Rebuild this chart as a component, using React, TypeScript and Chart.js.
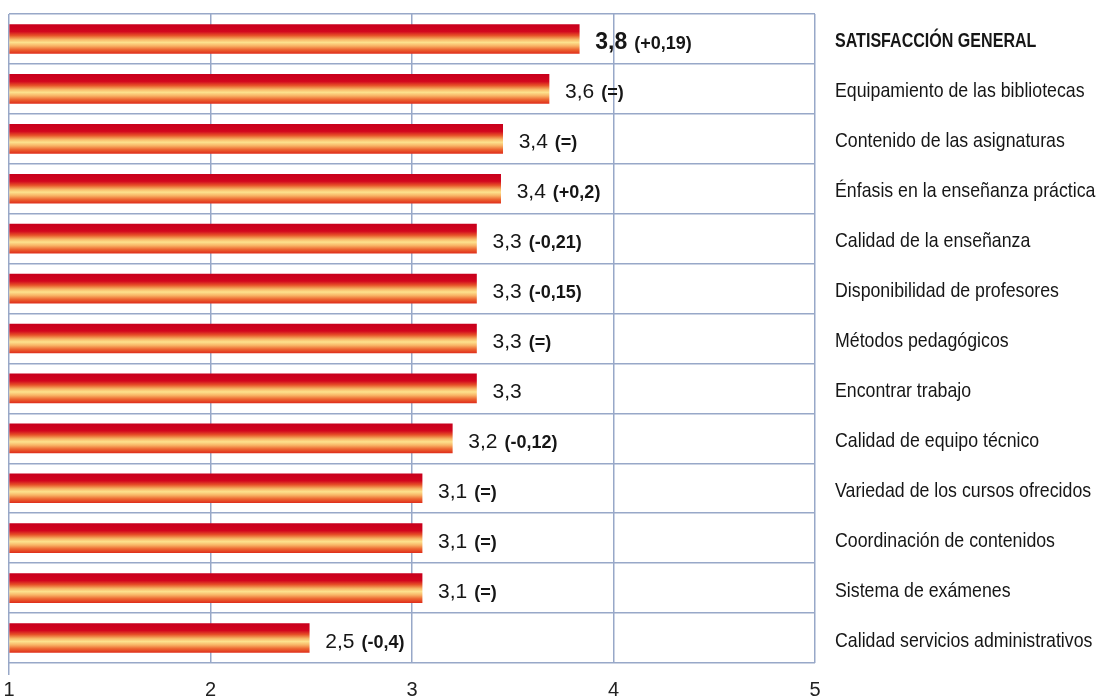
import React, { useEffect, useRef } from "react";
import { Chart, registerables } from "chart.js";

Chart.register(...registerables);

const categories = [
  "SATISFACCIÓN GENERAL",
  "Equipamiento de las bibliotecas",
  "Contenido de las asignaturas",
  "Énfasis en la enseñanza práctica",
  "Calidad de la enseñanza",
  "Disponibilidad de profesores",
  "Métodos pedagógicos",
  "Encontrar trabajo",
  "Calidad de equipo técnico",
  "Variedad de los cursos ofrecidos",
  "Coordinación de contenidos",
  "Sistema de exámenes",
  "Calidad servicios administrativos",
];
const scores = [3.83, 3.68, 3.45, 3.44, 3.32, 3.32, 3.32, 3.32, 3.2, 3.05, 3.05, 3.05, 2.49];
const scoreLabels = ["3,8", "3,6", "3,4", "3,4", "3,3", "3,3", "3,3", "3,3", "3,2", "3,1", "3,1", "3,1", "2,5"];
const changeLabels = ["(+0,19)", "(=)", "(=)", "(+0,2)", "(-0,21)", "(-0,15)", "(=)", "", "(-0,12)", "(=)", "(=)", "(=)", "(-0,4)"];
const xMin = 1;
const xMax = 5;

const GRID = "#98a8c8";
const TEXT = "#161616";
const SANS = "'Liberation Sans', Arial, sans-serif";
const CANVAS_W = 1097;
const CANVAS_H = 720;
// condensed look: horizontal squeeze applied to the category labels
const NARROW_REGULAR = 0.845;
const NARROW_BOLD = 0.765;

const valueLabelPlugin = {
  id: "valueLabels",
  afterDatasetsDraw(chart: any) {
    const meta = chart.getDatasetMeta(0);
    const c = chart.ctx;
    meta.data.forEach((el: any, i: number) => {
      const big = i === 0;
      const size = big ? 23 : 21;
      const x = el.x + 16;
      const base = el.y + 0.358 * size + 2;
      c.save();
      c.textBaseline = "alphabetic";
      c.textAlign = "left";
      c.fillStyle = TEXT;
      c.font = `${big ? "bold " : ""}${size}px ${SANS}`;
      c.fillText(scoreLabels[i], x, base);
      const w = c.measureText(scoreLabels[i]).width;
      if (changeLabels[i]) {
        c.font = `bold 18px ${SANS}`;
        c.fillText(changeLabels[i], x + w + 7, base);
      }
      c.restore();
    });
  },
};

const categoryLabelPlugin = {
  id: "categoryLabels",
  afterDraw(chart: any) {
    const ys = chart.scales.y;
    const c = chart.ctx;
    const x0 = chart.chartArea.right + 20;
    categories.forEach((label, i) => {
      const bold = i === 0;
      const size = 21;
      const yc = ys.getPixelForValue(i);
      c.save();
      c.font = `${bold ? "bold " : ""}${size}px ${SANS}`;
      c.fillStyle = TEXT;
      c.textBaseline = "alphabetic";
      c.textAlign = "left";
      c.translate(x0, yc + 0.358 * size + 1);
      c.scale(bold ? NARROW_BOLD : NARROW_REGULAR, 1);
      c.fillText(label, 0, 0);
      c.restore();
    });
  },
};

export default function App() {
  const ref = useRef<HTMLCanvasElement | null>(null);

  useEffect(() => {
    if (!ref.current) return;
    const chart = new Chart(ref.current, {
      type: "bar",
      data: {
        labels: categories,
        datasets: [
          {
            data: scores,
            base: xMin,
            barThickness: 29,
            borderWidth: 0,
            backgroundColor: (ctx: any) => {
              const ch = ctx.chart;
              const ys = ch.scales && ch.scales.y;
              if (!ys || ctx.dataIndex === undefined) return "#d0101e";
              const yc = ys.getPixelForValue(ctx.dataIndex);
              if (!Number.isFinite(yc)) return "#d0101e";
              const g = ch.ctx.createLinearGradient(0, yc - 14.5, 0, yc + 14.5);
              g.addColorStop(0, "#c8001c");
              g.addColorStop(0.24, "#d2061e");
              g.addColorStop(0.38, "#e65228");
              g.addColorStop(0.52, "#f7b867");
              g.addColorStop(0.62, "#fde28e");
              g.addColorStop(0.74, "#f8b264");
              g.addColorStop(0.87, "#ec6530");
              g.addColorStop(1, "#e0301c");
              return g;
            },
          } as any,
        ],
      },
      options: {
        indexAxis: "y",
        responsive: false,
        animation: false,
        layout: { padding: { left: 9, top: 14, right: 0, bottom: 0 } },
        plugins: { legend: { display: false }, tooltip: { enabled: false } },
        scales: {
          x: {
            type: "linear",
            min: xMin,
            max: xMax,
            position: "bottom",
            ticks: {
              stepSize: 1,
              color: "#222",
              padding: 3,
              font: { family: SANS, size: 20 },
            },
            grid: {
              color: GRID,
              lineWidth: 1.5,
              drawTicks: true,
              tickLength: 12,
              tickColor: (c: any) => (c.index === 0 ? GRID : "rgba(0,0,0,0)"),
            },
            border: { display: false },
            afterFit: (s: any) => {
              s.height = CANVAS_H - 663;
            },
          },
          y: {
            type: "category",
            position: "right",
            grid: { color: GRID, lineWidth: 1.5, drawTicks: false, offset: true },
            border: { display: false },
            ticks: { display: false },
            afterFit: (s: any) => {
              s.width = CANVAS_W - 815;
              s.paddingTop = 0;
              s.paddingBottom = 0;
            },
          },
        } as any,
      },
      plugins: [valueLabelPlugin, categoryLabelPlugin],
    });
    return () => chart.destroy();
  }, []);

  return (
    <div
      style={{
        position: "fixed",
        left: 0,
        top: 0,
        width: CANVAS_W,
        height: 696,
        overflow: "hidden",
        background: "#fff",
      }}
    >
      <canvas ref={ref} width={CANVAS_W} height={CANVAS_H} style={{ display: "block" }} />
    </div>
  );
}
